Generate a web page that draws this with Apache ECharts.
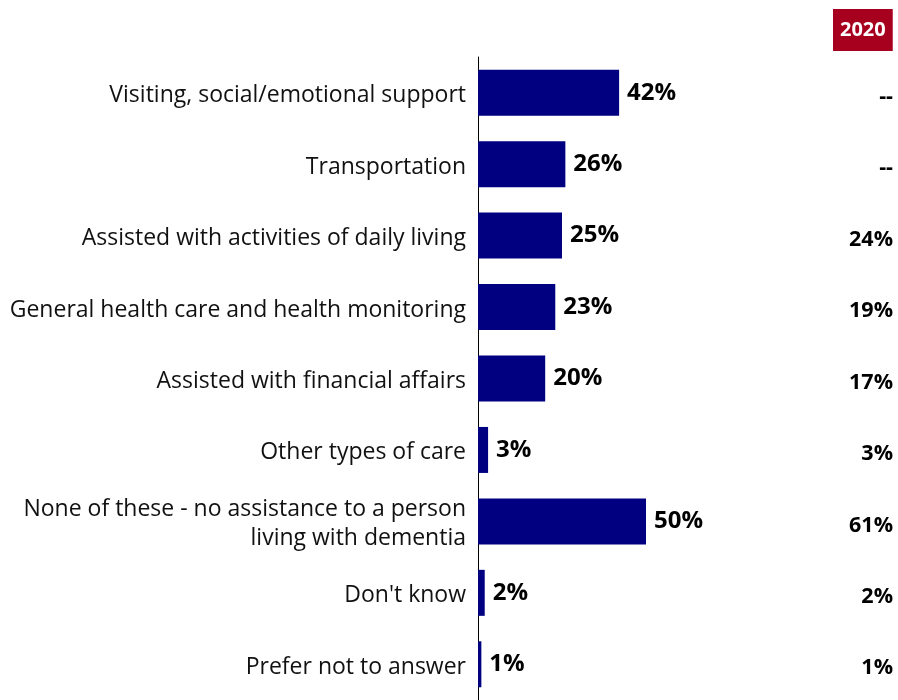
<!DOCTYPE html>
<html>
<head>
<meta charset="utf-8">
<script src="https://cdn.jsdelivr.net/npm/echarts@6/dist/echarts.min.js"></script>
<style>
  html, body { margin: 0; padding: 0; background: #fff; }
  #chart { width: 898px; height: 700px; }
</style>
</head>
<body>
<div id="chart"></div>
<script>
// Types of assistance provided (current wave) with the 2020 comparison column
const categories = [
  'Visiting, social/emotional support',
  'Transportation',
  'Assisted with activities of daily living',
  'General health care and health monitoring',
  'Assisted with financial affairs',
  'Other types of care',
  'None of these - no assistance to a person\nliving with dementia',
  "Don't know",
  'Prefer not to answer'
];
const currentValues = [42, 26, 25, 23, 20, 3, 50, 2, 1];
const values2020 = ['--', '--', '24%', '19%', '17%', '3%', '61%', '2%', '1%'];
const headerLabel = '2020';

// wrap every line in a rich-text fragment so labels sit a little lower
const wrapLines = (s, tag) => s.split('\n').map(l => '{' + tag + '|' + l + '}').join('\n');

const chart = echarts.init(document.getElementById('chart'));
chart.setOption({
  animation: false,
  title: {
    text: headerLabel,
    left: 833,
    top: 9,
    backgroundColor: '#A6001E',
    padding: [9, 7, 9, 7],
    textStyle: { color: '#fff', fontWeight: 'bold', fontSize: 20, fontFamily: 'Open Sans', lineHeight: 24 }
  },
  grid: { left: 478, top: 57, width: 336, height: 648, containLabel: false },
  xAxis: {
    type: 'value', min: 0, max: 100, show: false
  },
  yAxis: [
    {
      type: 'category',
      data: categories,
      inverse: true,
      axisLine: { show: true, lineStyle: { color: '#000', width: 1 } },
      axisTick: { show: false },
      axisLabel: {
        margin: 12, align: 'right',
        formatter: v => wrapLines(v, 'c'),
        rich: {
          c: { color: '#111', fontSize: 23, fontFamily: 'Open Sans', lineHeight: 29, padding: [6, 0, 0, 0], align: 'right' }
        }
      }
    },
    {
      type: 'category',
      data: categories,
      inverse: true,
      position: 'right',
      axisLine: { show: false },
      axisTick: { show: false },
      axisLabel: {
        margin: 79, align: 'right',
        formatter: (v, i) => '{p|' + values2020[i] + '}',
        rich: {
          p: { color: '#000', fontSize: 21.5, fontWeight: 'bold', fontFamily: 'Open Sans', padding: [8, 0, 0, 0] }
        }
      }
    }
  ],
  series: [{
    type: 'bar',
    data: currentValues,
    barWidth: 46,
    itemStyle: { color: '#000080' },
    label: {
      show: true, position: 'right', distance: 8,
      formatter: '{c}%', color: '#000', fontWeight: 'bold', fontSize: 24, fontFamily: 'Open Sans'
    }
  }]
});
</script>
</body>
</html>
